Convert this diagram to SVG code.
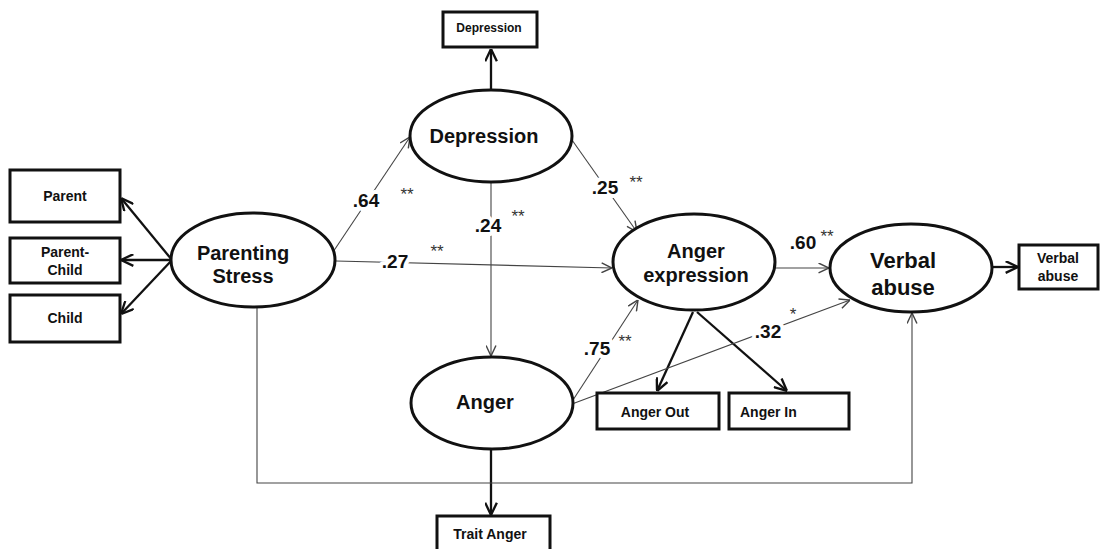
<svg xmlns="http://www.w3.org/2000/svg" width="1102" height="549" viewBox="0 0 1102 549">
<style>
.ell{fill:#fff;stroke:#111;stroke-width:3}
.box{fill:#fff;stroke:#111;stroke-width:3}
.thin{fill:none;stroke:#444;stroke-width:1.1}
.thick{fill:none;stroke:#111;stroke-width:2.3}
.lt{font-family:"Liberation Sans",Arial,sans-serif;font-weight:bold;fill:#111;text-anchor:middle}
.big{font-size:20px}
.bt{font-size:14px}
.coef{font-family:"Liberation Sans",Arial,sans-serif;font-weight:bold;font-size:19px;fill:#111;text-anchor:middle;paint-order:stroke;stroke:#fff;stroke-width:8;stroke-linejoin:round}
.star{font-family:"Liberation Sans",Arial,sans-serif;font-size:17px;fill:#333;text-anchor:middle}
</style>
<defs>
<marker id="ah" viewBox="0 0 10 10" refX="10" refY="5" markerWidth="11" markerHeight="11" markerUnits="userSpaceOnUse" orient="auto">
<path d="M0.5,0.5 L10,5 L0.5,9.5" fill="none" stroke="#444" stroke-width="1.3"/>
</marker>
<marker id="ahb" viewBox="0 0 10 10" refX="10" refY="5" markerWidth="13" markerHeight="13" markerUnits="userSpaceOnUse" orient="auto">
<path d="M0.5,0.5 L10,5 L0.5,9.5" fill="none" stroke="#111" stroke-width="1.8"/>
</marker>
</defs>
<g id="connectors">
<path class="thick" d="M172,260 L121,198" marker-end="url(#ahb)"/>
<path class="thick" d="M172,260 L121,260" marker-end="url(#ahb)"/>
<path class="thick" d="M172,260 L121,314" marker-end="url(#ahb)"/>
<path class="thick" d="M491,90 L491,49" marker-end="url(#ahb)"/>
<path class="thick" d="M993,267 L1018,267" marker-end="url(#ahb)"/>
<path class="thick" d="M693,312 L657,391" marker-end="url(#ahb)"/>
<path class="thick" d="M697,312 L787,391" marker-end="url(#ahb)"/>
<path class="thick" d="M491,450 L491,515" marker-end="url(#ahb)"/>
<path class="thin" d="M333,252 L410,137" marker-end="url(#ah)"/>
<path class="thin" d="M572,140 L637,232" marker-end="url(#ah)"/>
<path class="thin" d="M491,183 L491,356" marker-end="url(#ah)"/>
<path class="thin" d="M336,261 L612,268" marker-end="url(#ah)"/>
<path class="thin" d="M775,268 L829,268" marker-end="url(#ah)"/>
<path class="thin" d="M573,400 L638,300" marker-end="url(#ah)"/>
<path class="thin" d="M572,404 L850,300" marker-end="url(#ah)"/>
<path class="thin" d="M257,307 L257,483 L912,483 L912,313" marker-end="url(#ah)"/>
<text class="coef" x="366" y="207">.64</text>
<text class="star" x="407" y="200">**</text>
<text class="coef" x="605" y="194">.25</text>
<text class="star" x="636" y="188">**</text>
<text class="coef" x="488" y="232">.24</text>
<text class="star" x="518" y="222">**</text>
<text class="coef" x="395" y="268">.27</text>
<text class="star" x="437" y="257">**</text>
<text class="coef" x="803" y="249">.60</text>
<text class="star" x="827" y="242">**</text>
<text class="coef" x="597" y="355">.75</text>
<text class="star" x="625" y="347">**</text>
<text class="coef" x="768" y="338">.32</text>
<text class="star" x="793" y="320">*</text>
</g>
<g id="parent">
<rect class="box" x="10" y="170" width="110" height="52"/>
<text class="lt bt" x="65" y="201">Parent</text>
</g>
<g id="parent-child">
<rect class="box" x="10" y="238" width="110" height="45"/>
<text class="lt bt" x="65" y="257">Parent-</text>
<text class="lt bt" x="65" y="275">Child</text>
</g>
<g id="child">
<rect class="box" x="10" y="295" width="110" height="47"/>
<text class="lt bt" x="65" y="323">Child</text>
</g>
<g id="parenting-stress">
<ellipse class="ell" cx="253" cy="260" rx="82" ry="47"/>
<text class="lt big" x="243" y="260">Parenting</text>
<text class="lt big" x="243" y="283">Stress</text>
</g>
<g id="depression-box">
<rect class="box" x="443" y="12" width="94" height="35"/>
<text class="lt" x="489" y="32" font-size="12">Depression</text>
</g>
<g id="depression">
<ellipse class="ell" cx="491" cy="136" rx="81" ry="46"/>
<text class="lt big" x="484" y="143">Depression</text>
</g>
<g id="anger-expression">
<ellipse class="ell" cx="694" cy="262" rx="81" ry="48"/>
<text class="lt big" x="696" y="258">Anger</text>
<text class="lt big" x="696" y="282">expression</text>
</g>
<g id="verbal-abuse">
<ellipse class="ell" cx="911" cy="268" rx="81" ry="44"/>
<text class="lt" x="903" y="268" font-size="22">Verbal</text>
<text class="lt" x="903" y="295" font-size="22">abuse</text>
</g>
<g id="verbal-abuse-box">
<rect class="box" x="1019" y="245" width="79" height="44"/>
<text class="lt bt" x="1058" y="263">Verbal</text>
<text class="lt bt" x="1058" y="281">abuse</text>
</g>
<g id="anger">
<ellipse class="ell" cx="492" cy="403" rx="81" ry="46"/>
<text class="lt big" x="485" y="409">Anger</text>
</g>
<g id="anger-out">
<rect class="box" x="597" y="393" width="122" height="36"/>
<text class="lt bt" x="655" y="417">Anger Out</text>
</g>
<g id="anger-in">
<rect class="box" x="729" y="393" width="120" height="36"/>
<text class="lt bt" x="740" y="417" style="text-anchor:start">Anger In</text>
</g>
<g id="trait-anger">
<rect class="box" x="437" y="516" width="113" height="36"/>
<text class="lt bt" x="490" y="539">Trait Anger</text>
</g>
</svg>
